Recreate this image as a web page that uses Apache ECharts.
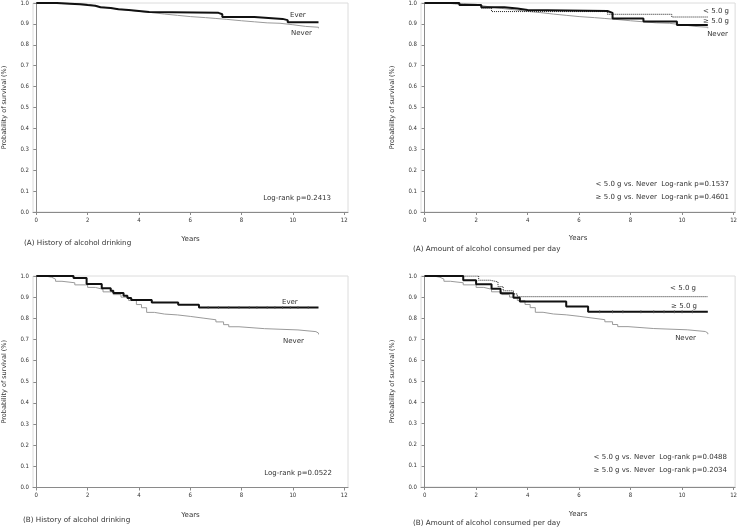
<!DOCTYPE html>
<html><head><meta charset="utf-8">
<script src="https://cdn.jsdelivr.net/npm/echarts@6/dist/echarts.min.js"></script>
<style>html,body{margin:0;padding:0;background:#fff}#c{width:740px;height:529px}</style>
</head><body><div id="c"></div>
<script>
// ---- data (years, survival probability) ----
const xTicks = [0, 2, 4, 6, 8, 10, 12];
const yTicks = [0, 0.1, 0.2, 0.3, 0.4, 0.5, 0.6, 0.7, 0.8, 0.9, 1.0];

// Panel A (top)
const aEver = [[0,1],[0.8,0.997],[1.3,0.994],[1.7,0.99],[2.0,0.987],[2.3,0.98],[2.5,0.976],[2.9,0.97],[3.2,0.966],[3.6,0.962],[4.0,0.957],[4.4,0.953],[7.1,0.946],[7.25,0.933],[8.5,0.924],[9.6,0.918],[9.8,0.908],[11.0,0.908]];
const aNever = [[0,1],[1.0,0.998],[1.5,0.994],[2.0,0.986],[2.3,0.98],[2.6,0.974],[3.0,0.967],[3.5,0.96],[4.0,0.954],[4.5,0.947],[5.0,0.941],[5.5,0.935],[6.0,0.93],[6.6,0.926],[7.0,0.922],[7.4,0.915],[8.0,0.91],[8.5,0.905],[9.0,0.903],[9.5,0.896],[10.0,0.888],[10.5,0.884],[11.0,0.879]];
const aHigh = [[0,1],[1.35,0.99],[2.2,0.98],[3.1,0.974],[3.6,0.966],[4.0,0.962],[7.1,0.953],[7.3,0.926],[8.5,0.911],[9.8,0.895],[11,0.895]];
const aLow = [[0,1],[0.8,0.994],[1.35,0.99],[2.2,0.975],[2.6,0.959],[7.1,0.946],[9.6,0.933],[11,0.933]];

// Panel B (bottom)
const bEver = [[0,1],[1.45,0.99],[1.96,0.962],[2.55,0.942],[2.9,0.93],[3.0,0.92],[3.4,0.907],[3.55,0.896],[3.7,0.886],[4.5,0.875],[5.53,0.864],[6.34,0.851],[11,0.851]];
const bEverCensored = [[6.7,0.851],[7.1,0.851],[7.5,0.851],[7.9,0.851],[8.3,0.851],[8.6,0.851],[9.0,0.851],[9.3,0.851],[9.6,0.851],[9.9,0.851],[10.2,0.851],[10.6,0.851]];
const bNever = [[0,1],[0.35,0.994],[0.6,0.985],[0.75,0.975],[1.0,0.968],[1.5,0.958],[2.0,0.946],[2.3,0.937],[2.6,0.925],[3.0,0.912],[3.3,0.9],[3.6,0.884],[3.9,0.865],[4.1,0.85],[4.3,0.828],[4.6,0.82],[5.0,0.816],[5.5,0.809],[6.0,0.801],[6.5,0.793],[7.0,0.783],[7.3,0.77],[7.5,0.76],[7.9,0.751],[8.9,0.745],[10.2,0.737],[10.9,0.73],[11.0,0.724]];
const bHigh = [[0,1],[1.5,0.98],[2.0,0.961],[2.6,0.94],[2.95,0.918],[3.45,0.897],[3.7,0.879],[5.5,0.856],[6.35,0.831],[11,0.831]];
const bHighCensored = [[6.8,0.831],[7.3,0.831],[7.7,0.831],[8.4,0.831],[8.9,0.831],[9.3,0.831],[9.7,0.831],[10.0,0.831],[10.4,0.831]];
const bLow = [[0,1],[2.1,0.98],[2.55,0.972],[2.85,0.95],[3.05,0.93],[3.45,0.915],[3.6,0.902],[11,0.902]];

const captions = ['(A) History of alcohol drinking','(A) Amount of alcohol consumed per day','(B) History of alcohol drinking','(B) Amount of alcohol consumed per day'];

// ---- chart ----
const FONT = 'DejaVu Sans';
const NARROW = 'DejaVu Sans Condensed, DejaVu Sans';
const grids = [
  {left:30, top:2, width:318, height:210},
  {left:421, top:2, width:316, height:210},
  {left:30, top:276, width:318, height:211.5},
  {left:421, top:276, width:317, height:211}
];
const xRanges = [[-0.13,12.15],[-0.14,12.06],[-0.13,12.15],[-0.14,12.06]];
const nameGapX = [24, 23, 24, 24];

const axisLineStyle = {color:'#8a8a8a', width:1};
const option = {
  backgroundColor:'#fff',
  animation:false,
  grid: grids.map(g => Object.assign({show:true, borderColor:'#dcdcdc', borderWidth:1, backgroundColor:'transparent'}, g)),
  xAxis: grids.map((g,i) => ({
    type:'value', gridIndex:i, min:xRanges[i][0], max:xRanges[i][1],
    name:'Years', nameLocation:'middle', nameGap:nameGapX[i],
    nameTextStyle:{fontFamily:FONT, fontSize:7, color:'#333'},
    axisLine:{show:true, onZero:false, lineStyle:axisLineStyle},
    axisTick:{show:true, length:3, customValues:xTicks, lineStyle:axisLineStyle},
    axisLabel:{customValues:xTicks, fontFamily:NARROW, fontSize:6, color:'#333', margin:5},
    splitLine:{show:false}
  })),
  yAxis: grids.map((g,i) => ({
    type:'value', gridIndex:i, min:0, max:1, interval:0.1,
    name:'Probability of survival (%)', nameLocation:'middle', nameGap:25, nameRotate:90,
    nameTextStyle:{fontFamily:FONT, fontSize:6.5, color:'#333'},
    axisLine:{show:true, lineStyle:axisLineStyle},
    axisTick:{show:true, length:3, lineStyle:axisLineStyle},
    axisLabel:{fontFamily:NARROW, fontSize:6, color:'#333', margin:4, formatter:v => v.toFixed(1)},
    splitLine:{show:false}
  })),
  series: [],
  graphic: []
};

function km(data, gi, style){
  option.series.push({type:'line', step:'end', xAxisIndex:gi, yAxisIndex:gi, data:data,
    showSymbol:false, symbol:'none', lineStyle:style, z: style.width>1?3:2, silent:true});
}
function censor(data, gi){
  option.series.push({type:'scatter', xAxisIndex:gi, yAxisIndex:gi, data:data, silent:true,
    symbol:'rect', symbolSize:[1,3], itemStyle:{color:'#555'}, z:4});
}
const SNever = {color:'#9a9a9a', width:1};
const SEver = {color:'#111', width:2};
const SLow = {color:'#222', width:1, type:'dotted'};

km(aNever,0,SNever); km(aEver,0,SEver);
km(aNever,1,SNever); km(aHigh,1,SEver); km(aLow,1,SLow);
km(bNever,2,SNever); km(bEver,2,SEver); censor(bEverCensored,2);
km(bNever,3,SNever); km(bHigh,3,SEver); km(bLow,3,SLow); censor(bHighCensored,3);

function txt(s, x, y, align, size){
  option.graphic.push({type:'text', x:x, y:y, silent:true,
    style:{text:s, fontFamily:FONT, fontSize:size||7, fill:'#333', align:align||'left', verticalAlign:'middle'}});
}
// captions
txt(captions[0], 24, 243, 'left', 7.2);
txt(captions[1], 413, 249, 'left', 7.2);
txt(captions[2], 23, 520, 'left', 7.2);
txt(captions[3], 413, 523, 'left', 7.2);
// panel annotations
txt('Ever', 290, 15); txt('Never', 291, 33); txt('Log-rank p=0.2413', 331, 198, 'right');
txt('< 5.0 g', 729, 11, 'right'); txt('\u2265 5.0 g', 729, 21, 'right'); txt('Never', 728, 34, 'right');
txt('< 5.0 g vs. Never  Log-rank p=0.1537', 729, 184, 'right');
txt('\u2265 5.0 g vs. Never  Log-rank p=0.4601', 729, 197, 'right');
txt('Ever', 282, 302); txt('Never', 283, 341); txt('Log-rank p=0.0522', 332, 473, 'right');
txt('< 5.0 g', 696, 288, 'right'); txt('\u2265 5.0 g', 697, 306, 'right'); txt('Never', 696, 338, 'right');
txt('< 5.0 g vs. Never  Log-rank p=0.0488', 727, 457, 'right');
txt('\u2265 5.0 g vs. Never  Log-rank p=0.2034', 727, 470, 'right');

const chart = echarts.init(document.getElementById('c'), null, {renderer:'canvas'});
chart.setOption(option);
</script></body></html>
